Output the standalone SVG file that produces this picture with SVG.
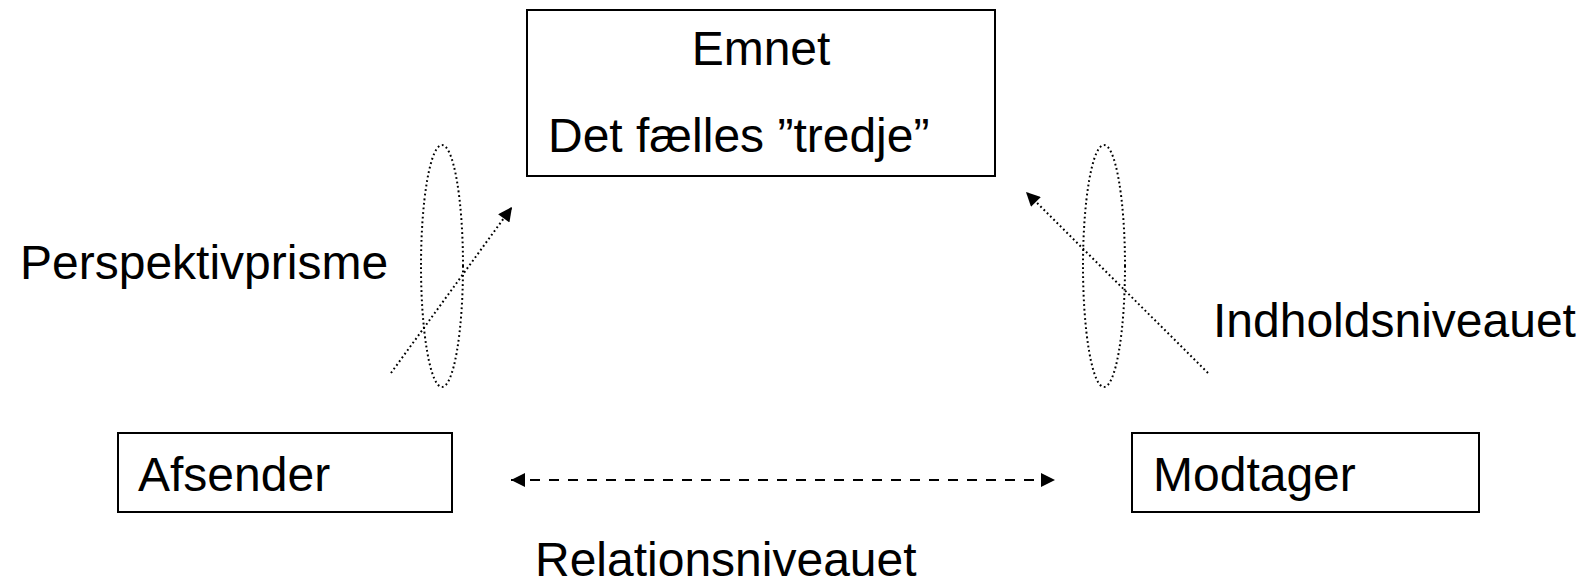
<svg xmlns="http://www.w3.org/2000/svg" width="1583" height="586" viewBox="0 0 1583 586">
  <style>
    .box { fill: #ffffff; stroke: #000000; stroke-width: 2; }
    .label { font-family: "Liberation Sans", Arial, sans-serif; font-size: 48px; fill: #000000; }
    .dotted { fill: none; stroke: #000000; stroke-width: 2; stroke-dasharray: 1.8 2.8; stroke-linecap: butt; }
    .dashed { fill: none; stroke: #000000; stroke-width: 2; stroke-dasharray: 10 9; }
  </style>
  <defs>
    <marker id="head" viewBox="0 0 10 10" refX="10" refY="5" markerWidth="17" markerHeight="14" markerUnits="userSpaceOnUse" orient="auto-start-reverse">
      <path d="M0,0 L10,5 L0,10 Z" fill="#000000"/>
    </marker>
  </defs>

  <rect width="1583" height="586" fill="#ffffff"/>

  <!-- central topic -->
  <g id="emnet">
    <rect class="box" x="527" y="10" width="468" height="166"/>
    <text class="label" x="761" y="65" text-anchor="middle">Emnet</text>
    <text class="label" x="548" y="152">Det fælles ”tredje”</text>
  </g>

  <!-- sender -->
  <g id="afsender">
    <rect class="box" x="118" y="433" width="334" height="79"/>
    <text class="label" x="138" y="491">Afsender</text>
  </g>

  <!-- receiver -->
  <g id="modtager">
    <rect class="box" x="1132" y="433" width="347" height="79"/>
    <text class="label" x="1153" y="491">Modtager</text>
  </g>

  <!-- perspective prisms -->
  <g id="prisme-venstre">
    <ellipse class="dotted" cx="442" cy="266" rx="21" ry="121"/>
  </g>
  <g id="prisme-hoejre">
    <ellipse class="dotted" cx="1104" cy="266" rx="21" ry="121"/>
  </g>

  <!-- free labels -->
  <g id="perspektivprisme">
    <text class="label" x="20" y="279">Perspektivprisme</text>
  </g>
  <g id="indholdsniveauet">
    <text class="label" x="1213" y="337">Indholdsniveauet</text>
  </g>
  <g id="relationsniveauet">
    <text class="label" x="535" y="576">Relationsniveauet</text>
  </g>

  <!-- connectors -->
  <g id="connectors">
    <line class="dotted" x1="391" y1="373" x2="512" y2="207" marker-end="url(#head)"/>
    <line class="dotted" x1="1208" y1="373" x2="1026" y2="192" marker-end="url(#head)"/>
    <line class="dashed" x1="511" y1="480" x2="1055" y2="480" marker-start="url(#head)" marker-end="url(#head)"/>
  </g>
</svg>
